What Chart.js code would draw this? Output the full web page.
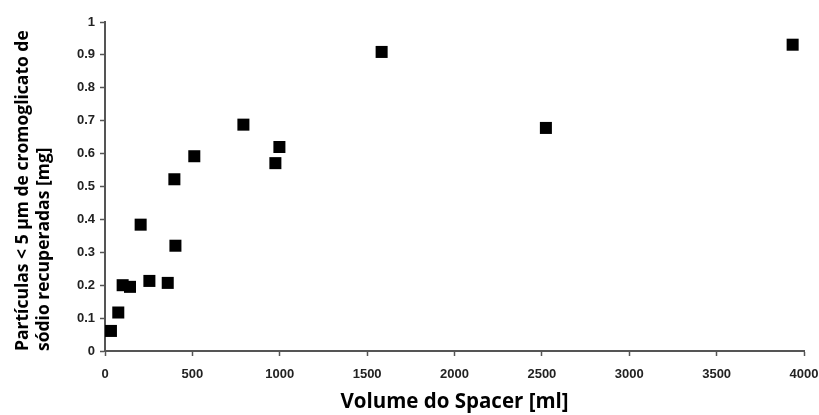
<!DOCTYPE html>
<html>
<head>
<meta charset="utf-8">
<script src="https://cdn.jsdelivr.net/npm/chart.js@4/dist/chart.umd.min.js"></script>
<style>
    html, body { margin: 0; padding: 0; background: #fff; }
    #wrap { width: 819px; height: 415px; }
</style>
</head>
<body>
<div id="wrap"><canvas id="spacerChart"></canvas></div>
<script>
// Volume do spacer vs. particulas recuperadas
const spacerVolumes = [34, 76, 101, 143, 204, 254, 359, 397, 403, 511, 792, 975, 998, 1583, 2523, 3935];
const recoveredMg = [0.061, 0.117, 0.2, 0.195, 0.384, 0.213, 0.207, 0.522, 0.32, 0.592, 0.688, 0.571, 0.62, 0.909, 0.678, 0.931];
const yTickLabels = ['0', '0.1', '0.2', '0.3', '0.4', '0.5', '0.6', '0.7', '0.8', '0.9', '1'];
const xTickLabels = ['0', '500', '1000', '1500', '2000', '2500', '3000', '3500', '4000'];

const points = spacerVolumes.map((v, i) => ({ x: v, y: recoveredMg[i] }));
const axisColor = '#555';
const tickFont = { family: 'Liberation Sans, Arial', size: 13, weight: 'bold' };

const ctx = document.getElementById('spacerChart');
new Chart(ctx, {
    type: 'scatter',
    data: {
        datasets: [{
            data: points,
            pointStyle: 'rect',
            pointRadius: 8.5,
            pointHoverRadius: 8.5,
            borderWidth: 0,
            backgroundColor: '#000'
        }]
    },
    options: {
        responsive: true,
        maintainAspectRatio: false,
        animation: false,
        layout: { padding: { top: 22, right: 15, left: 0, bottom: 0 } },
        plugins: {
            legend: { display: false },
            tooltip: { enabled: false }
        },
        scales: {
            x: {
                type: 'linear',
                min: 0,
                max: 4000,
                afterFit: (scale) => {
                    scale.height = 64;
                    // let the last label run to the edge, like the original
                    scale.paddingLeft = 0;
                    scale.paddingRight = 0;
                },
                border: { color: axisColor, width: 2 },
                grid: { drawOnChartArea: false, color: axisColor, tickLength: 5, tickWidth: 1.5 },
                ticks: {
                    stepSize: 500,
                    maxRotation: 0,
                    padding: 11,
                    color: '#222',
                    font: tickFont,
                    callback: (v, i) => xTickLabels[i]
                },
                title: {
                    display: true,
                    text: 'Volume do Spacer [ml]',
                    color: '#000',
                    font: { family: 'Open Sans', size: 20.5, weight: 'bold' },
                    padding: { top: 0, bottom: 1 }
                }
            },
            y: {
                type: 'linear',
                min: 0,
                max: 1,
                afterFit: (scale) => { scale.width = 105; },
                border: { color: axisColor, width: 2 },
                grid: { drawOnChartArea: false, color: axisColor, tickLength: 5, tickWidth: 1.5 },
                ticks: {
                    stepSize: 0.1,
                    padding: 5,
                    color: '#222',
                    font: tickFont,
                    callback: (v, i) => yTickLabels[i]
                },
                title: {
                    display: true,
                    align: 'start',
                    text: ['Partículas < 5 µm de cromoglicato de', 'sódio recuperadas [mg]'],
                    color: '#000',
                    font: { family: 'Open Sans', size: 17.5, weight: 'bold', lineHeight: '21px' },
                    padding: { top: 13, bottom: 0 }
                }
            }
        }
    }
});
</script>
</body>
</html>
